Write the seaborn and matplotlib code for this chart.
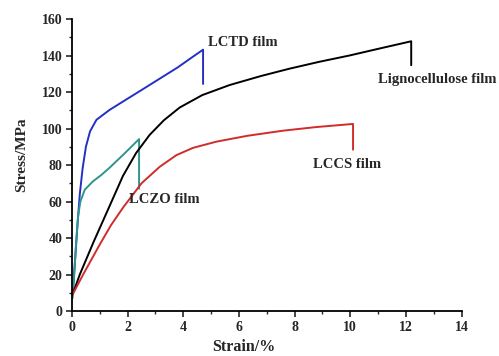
import matplotlib
matplotlib.use("Agg")
import matplotlib.pyplot as plt
import seaborn as sns
import pandas as pd
from matplotlib.ticker import MultipleLocator

sns.set_style("white")
plt.rcParams['font.family'] = ['Liberation Serif', 'DejaVu Serif']
plt.rcParams['font.weight'] = 'bold'

# Data (strain %, stress MPa)
lctd_strain = [0.02, 0.05, 0.12, 0.2, 0.28, 0.38, 0.5, 0.65, 0.88, 1.35, 1.95, 2.5, 3.15, 3.8, 4.35, 4.71, 4.71]
lctd_stress = [10, 15, 30, 48, 64, 78, 90, 98.5, 104.8, 110.2, 115.9, 121.1, 127.3, 133.5, 139.4, 143.2, 124.4]

lczo_strain = [0.02, 0.08, 0.15, 0.22, 0.3, 0.46, 0.75, 1.05, 1.35, 1.9, 2.41, 2.41]
lczo_stress = [7, 20, 38, 52, 60, 66.5, 71, 74.5, 78.5, 86.5, 94.2, 67]

ligno_strain = [0.02, 0.28, 0.78, 1.35, 1.83, 2.3, 2.79, 3.3, 3.87, 4.68, 5.66, 6.8, 7.82, 8.9, 9.97, 11.1, 12.19, 12.19]
ligno_stress = [9, 20, 38, 57.5, 74, 86.5, 96.5, 104.5, 111.5, 118.3, 123.8, 128.8, 132.8, 136.6, 140.0, 144.0, 147.8, 134.7]

lccs_strain = [0.02, 0.4, 1.0, 1.4, 1.85, 2.5, 3.15, 3.75, 4.35, 5.19, 6.3, 7.58, 8.78, 10.1, 10.1]
lccs_stress = [9, 20, 36.5, 47, 57, 70, 79, 85.4, 89.4, 92.8, 96, 98.8, 100.8, 102.5, 88.4]

series = [
    ("LCTD film", lctd_strain, lctd_stress, "#2430c4"),
    ("LCZO film", lczo_strain, lczo_stress, "#2e958c"),
    ("Lignocellulose film", ligno_strain, ligno_stress, "#000000"),
    ("LCCS film", lccs_strain, lccs_stress, "#d02c2c"),
]

fig = plt.figure(figsize=(4.99, 3.56), dpi=100)
ax = fig.add_axes([0.1443, 0.1264, 0.7807, 0.8202])

for name, xs, ys, col in series:
    df = pd.DataFrame({"Strain": xs, "Stress": ys})
    sns.lineplot(data=df, x="Strain", y="Stress", sort=False, estimator=None,
                 color=col, linewidth=1.4, ax=ax, clip_on=False)

ax.set_xlim(0, 14)
ax.set_ylim(0, 160)
ax.xaxis.set_major_locator(MultipleLocator(2))
ax.xaxis.set_minor_locator(MultipleLocator(1))
ax.yaxis.set_major_locator(MultipleLocator(20))
ax.yaxis.set_minor_locator(MultipleLocator(10))
ax.tick_params(which='major', direction='out', length=4, width=1.2,
               bottom=True, left=True, labelsize=10, pad=3)
ax.tick_params(which='minor', direction='out', length=2.5, width=1.0,
               bottom=True, left=True)
for lab in ax.get_xticklabels() + ax.get_yticklabels():
    lab.set_fontweight('bold')

for side in ['top', 'right']:
    ax.spines[side].set_visible(False)
for side in ['left', 'bottom']:
    ax.spines[side].set_linewidth(1.3)
    ax.spines[side].set_color('black')

ax.set_xlabel("Strain/%", fontsize=11.5, fontweight='bold')
ax.set_ylabel("Stress/MPa", fontsize=11, fontweight='bold')
ax.xaxis.set_label_coords(0.44, -0.095)
ax.yaxis.set_label_coords(-0.113, 0.534)

txt = dict(fontsize=10.5, fontweight='bold', clip_on=False, va='center', ha='left')
ax.text(4.88, 147.3, "LCTD film", **txt)
ax.text(11.0, 126.6, "Lignocellulose film", **txt)
ax.text(8.66, 80.2, "LCCS film", **txt)
ax.text(2.05, 61.1, "LCZO film", **txt)

fig.savefig("out.png", dpi=100)
